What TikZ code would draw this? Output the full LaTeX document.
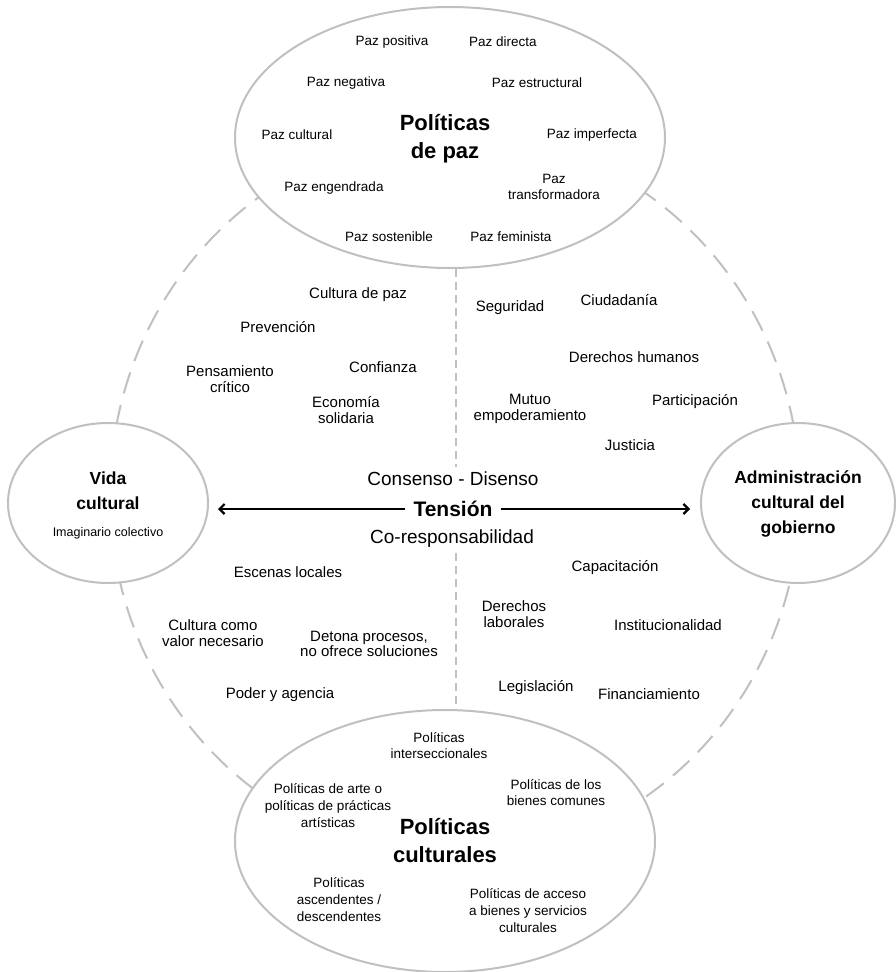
\documentclass[tikz,border=0pt]{standalone}
\usepackage{fontspec}
\setmainfont{Liberation Sans}
\usetikzlibrary{shapes.geometric,arrows.meta}
\definecolor{gris}{RGB}{192,192,192}
\tikzset{
  globo/.style={ellipse,draw=gris,line width=2pt,fill=white,inner sep=0pt},
  chico/.style={font=\fontsize{13.5}{16}\selectfont,align=center},
  medio/.style={font=\fontsize{15}{15.5}\selectfont,align=center},
  titulo/.style={font=\fontsize{22}{28}\selectfont\bfseries,align=center},
  subtitulo/.style={font=\fontsize{17.5}{25}\selectfont\bfseries,align=center},
  eje/.style={font=\fontsize{19}{20}\selectfont},
  corte/.style={draw=gris,line width=2pt,dash pattern=on 8pt off 5pt},
  flecha/.style={line width=2.2pt,-{Straight Barb[length=5pt,width=10pt]}}
}
\begin{document}
\begin{tikzpicture}[x=1pt,y=-1pt]
\useasboundingbox (0,0) rectangle (896,972);
\draw[gris,line width=2pt,dash pattern=on 22pt off 12pt] (455,495) ellipse [x radius=345pt,y radius=362pt];
\node[globo,minimum width=430pt,minimum height=261pt] (paz) at (450,137.5) {};
\node[globo,minimum width=420pt,minimum height=262pt] (pcult) at (445,841) {};
\node[globo,minimum width=200pt,minimum height=160pt] (vida) at (108,503) {};
\node[globo,minimum width=194pt,minimum height=160pt] (admin) at (798,503) {};
\coordinate (corte1) at (456,467);
\coordinate (corte2) at (456,553);
\draw[corte] (paz.south -| corte1) -- (corte1);
\draw[corte] (corte2) -- (corte2 |- pcult.north);

\node[titulo] (tpaz) at (445,139) {Políticas\\de paz};
\node[chico] (positiva) at (392,42) {Paz positiva};
\node[chico] (directa) at (503,42) {Paz directa};
\node[chico] (negativa) at (346,83) {Paz negativa};
\node[chico] (estructural) at (537,83) {Paz estructural};
\node[chico] (pcultural) at (297,135) {Paz cultural};
\node[chico] (imperfecta) at (592,135) {Paz imperfecta};
\node[chico] (engendrada) at (334,188) {Paz engendrada};
\node[chico] (transf) at (554,187) {Paz\\transformadora};
\node[chico] (sostenible) at (389,237) {Paz sostenible};
\node[chico] (feminista) at (511,237) {Paz feminista};

\node[medio] (culturapaz) at (358,295) {Cultura de paz};
\node[medio] (prevencion) at (278,327) {Prevención};
\node[medio] (pensamiento) at (230,379) {Pensamiento\\crítico};
\node[medio] (confianza) at (383,367) {Confianza};
\node[medio] (economia) at (346,410) {Economía\\solidaria};
\node[medio] (seguridad) at (510,308) {Seguridad};
\node[medio] (ciudadania) at (619,300) {Ciudadanía};
\node[medio] (ddhh) at (634,357) {Derechos humanos};
\node[medio] (mutuo) at (530,409) {Mutuo\\empoderamiento};
\node[medio] (participacion) at (695,402) {Participación};
\node[medio] (justicia) at (630,445) {Justicia};

\node[subtitulo] (tvida) at (108,491) {Vida\\cultural};
\node[font=\fontsize{12.5}{14}\selectfont] (imaginario) at (108,533) {Imaginario colectivo};
\node[subtitulo] (tadmin) at (798,504) {Administración\\cultural del\\gobierno};
\node[eje] (consenso) at (453,479) {Consenso - Disenso};
\node[eje] (coresp) at (452,539) {Co-responsabilidad};
\node[font=\fontsize{21}{21}\selectfont\bfseries,inner sep=8pt] (tension) at (453,509) {Tensión};
\draw[flecha,shorten >=9pt] (tension.west) -- (tension.west -| vida.east);
\draw[flecha,shorten >=10pt] (tension.east) -- (tension.east -| admin.west);

\node[medio] (escenas) at (288,572) {Escenas locales};
\node[medio] (valor) at (213,633) {Cultura como\\valor necesario};
\node[medio] (detona) at (369,644) {Detona procesos,\\no ofrece soluciones};
\node[medio] (poder) at (280,695) {Poder y agencia};
\node[medio] (capacitacion) at (615,568) {Capacitación};
\node[medio] (laborales) at (514,614) {Derechos\\laborales};
\node[medio] (instit) at (668,625) {Institucionalidad};
\node[medio] (legislacion) at (536,688) {Legislación};
\node[medio] (financiamiento) at (649,694) {Financiamiento};

\node[titulo] (tpcult) at (445,841) {Políticas\\culturales};
\node[chico] (intersecc) at (439,746) {Políticas\\interseccionales};
\node[chico,font=\fontsize{13.5}{17}\selectfont] (arte) at (328,806) {Políticas de arte o\\políticas de prácticas\\artísticas};
\node[chico] (comunes) at (556,793) {Políticas de los\\bienes comunes};
\node[chico,font=\fontsize{13.5}{17}\selectfont] (ascend) at (339,900) {Políticas\\ascendentes /\\descendentes};
\node[chico,font=\fontsize{13.5}{17}\selectfont] (acceso) at (528,911) {Políticas de acceso\\a bienes y servicios\\culturales};
\end{tikzpicture}
\end{document}
